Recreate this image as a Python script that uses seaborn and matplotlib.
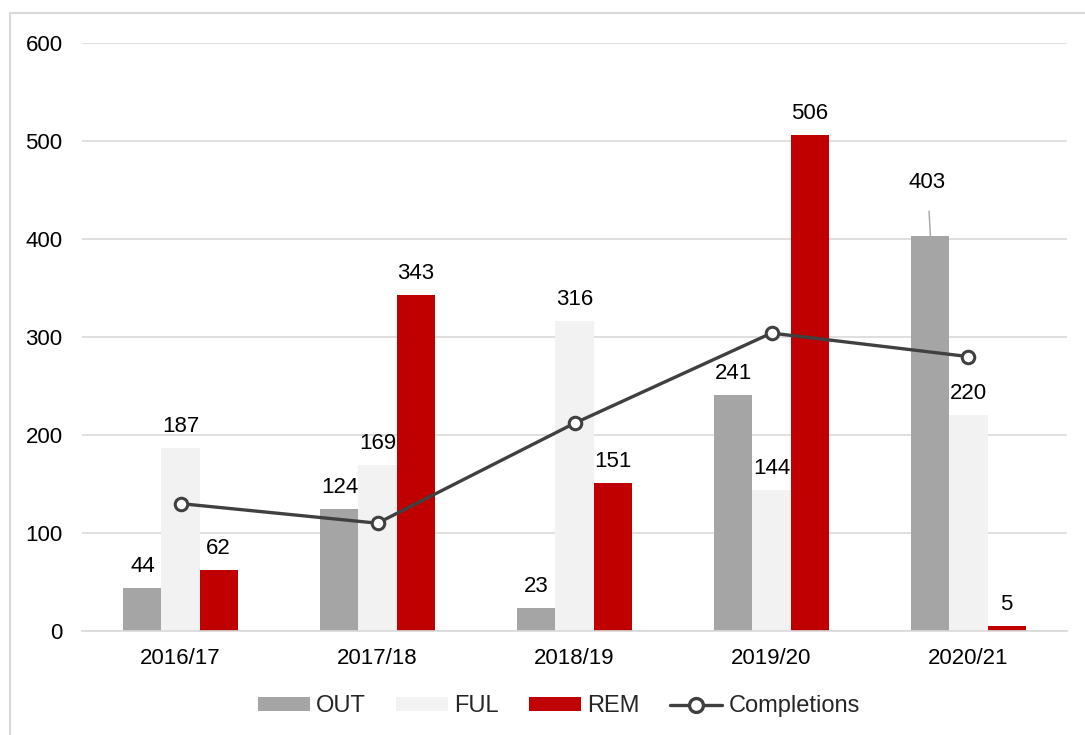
import numpy as np
import pandas as pd

import matplotlib
matplotlib.use("Agg")
import matplotlib.pyplot as plt
import seaborn as sns
from matplotlib.patches import Rectangle
from matplotlib.lines import Line2D
from matplotlib.patches import Patch


years = ["2016/17", "2017/18", "2018/19", "2019/20", "2020/21"]

out_vals = [44, 124, 23, 241, 403]
ful_vals = [187, 169, 316, 144, 220]
rem_vals = [62, 343, 151, 506, 5]
completions = [130, 110, 212, 304, 280]

series_names = ["OUT", "FUL", "REM"]
series_colors = ["#a5a5a5", "#f2f2f2", "#c00000"]
line_color = "#404040"


# long table for seaborn

df = pd.DataFrame({
    "year": years * 3,
    "series": ["OUT"] * 5 + ["FUL"] * 5 + ["REM"] * 5,
    "value": out_vals + ful_vals + rem_vals,
})

sns.set_style("white")
plt.rcParams["font.family"] = ["Liberation Sans", "DejaVu Sans"]

fig = plt.figure(figsize=(10.85, 7.35), dpi=100)
ax = fig.add_axes([0.0756, 0.1415, 0.9078, 0.80])

# outer frame of the chart area
fig.patches.append(
    Rectangle(
        (10 / 1085, -0.2),
        1.5,
        1.2 - 13 / 735,
        transform=fig.transFigure,
        fill=False,
        edgecolor="#d9d9d9",
        linewidth=1.5,
        zorder=0
    )
)

sns.barplot(
    data=df,
    x="year",
    y="value",
    hue="series",
    order=years,
    hue_order=series_names,
    palette=series_colors,
    saturation=1,
    width=0.58,
    gap=0,
    linewidth=0,
    ax=ax,
    legend=False,
    zorder=2
)

sns.pointplot(
    x=years,
    y=completions,
    order=years,
    color=line_color,
    markers="o",
    markersize=9,
    markerfacecolor="white",
    markeredgewidth=2.2,
    linewidth=2.4,
    ax=ax,
    zorder=4
)

# data labels

for container, vals in zip(ax.containers[:3], [out_vals, ful_vals, rem_vals]):
    for bar, v in zip(container, vals):
        cx = bar.get_x() + bar.get_width() / 2
        if v == 403:
            ax.annotate(
                str(v),
                xy=(cx, v),
                xytext=(cx - 0.015, v + 55),
                ha="center",
                va="center",
                fontsize=16,
                color="#000000",
                arrowprops=dict(
                    arrowstyle="-",
                    color="#a5a5a5",
                    lw=1,
                    shrinkA=11,
                    shrinkB=0
                )
            )
        else:
            ax.text(
                cx,
                v + 22,
                str(v),
                ha="center",
                va="center",
                fontsize=16,
                color="#000000"
            )

ax.set_ylim(0, 600)
ax.set_xlim(-0.5, 4.5)
ax.set_yticks(range(0, 601, 100))
ax.set_xlabel("")
ax.set_ylabel("")

ax.yaxis.grid(True, color="#d9d9d9", linewidth=1.2)
ax.set_axisbelow(True)

for side in ["top", "right", "left"]:
    ax.spines[side].set_visible(False)
ax.spines["bottom"].set_color("#d9d9d9")
ax.spines["bottom"].set_linewidth(1.2)

ax.tick_params(axis="both", length=0, labelsize=16, colors="#000000")
ax.tick_params(axis="y", pad=14)
ax.tick_params(axis="x", pad=12)

handles = [
    Patch(facecolor=c, edgecolor="none") for c in series_colors
] + [
    Line2D(
        [0], [0],
        color=line_color,
        linewidth=2.4,
        marker="o",
        markersize=10,
        markerfacecolor="white",
        markeredgewidth=2.4
    )
]

fig.legend(
    handles,
    series_names + ["Completions"],
    loc="center",
    bbox_to_anchor=(0.515, 0.039),
    ncol=4,
    frameon=False,
    fontsize=17,
    handlelength=2.2,
    handleheight=0.55,
    handletextpad=0.25,
    columnspacing=1.3
)

fig.savefig("out.png", dpi=100)
plt.close()
